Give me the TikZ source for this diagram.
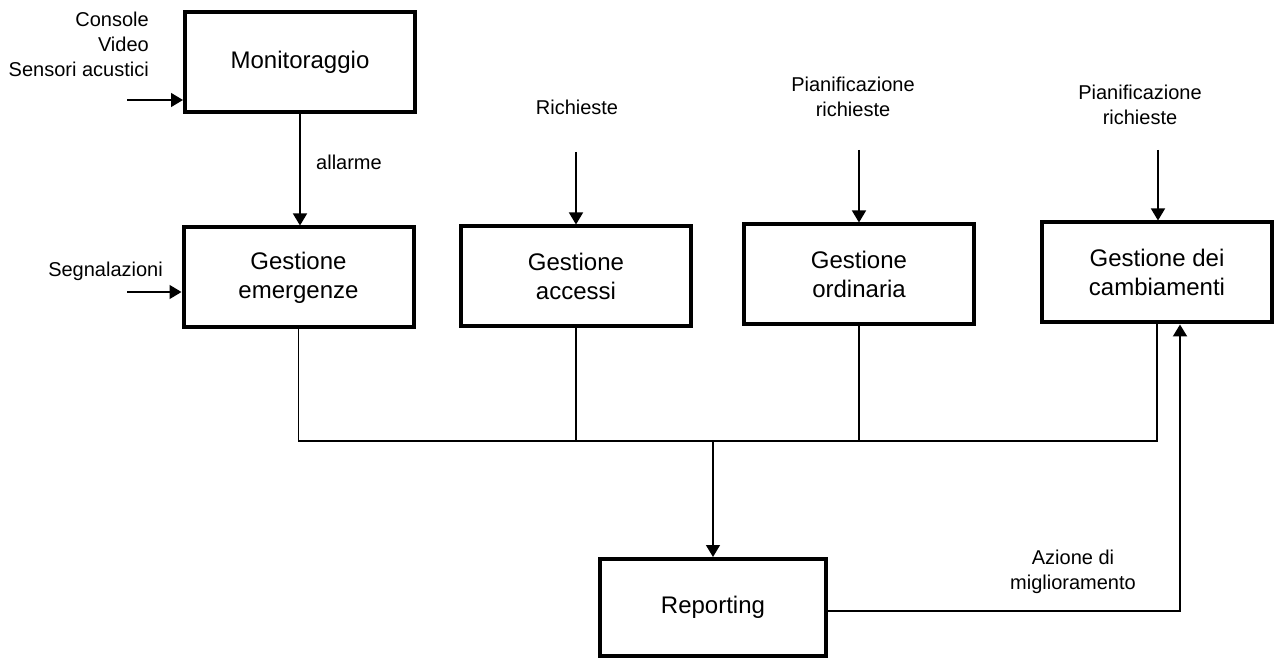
\documentclass[tikz,border=0pt]{standalone}
\usepackage{fontspec}
\setmainfont{Liberation Sans}
\usetikzlibrary{arrows.meta}
\begin{document}
\begin{tikzpicture}[x=1pt,y=-1pt,
  box/.style={draw, line width=4pt, minimum width=230pt, minimum height=100pt, inner sep=0pt, align=center, font=\fontsize{24}{29}\selectfont},
  lbl/.style={inner sep=0pt, align=center, font=\fontsize{20}{25}\selectfont},
  conn/.style={line width=1.4pt},
  arr/.style={conn, -{Triangle[length=12pt,width=14pt]}},
]
\useasboundingbox (0,0) rectangle (1275,660);

% boxes
\node[box] (mon)   at (300,62.5)   {Monitoraggio};
\node[box] (emerg) at (298.5,277.5){Gestione\\emergenze};
\node[box] (acc)   at (576,276.5)  {Gestione\\accessi};
\node[box] (ord)   at (859,274.5)  {Gestione\\ordinaria};
\node[box] (camb)  at (1157,272.5) {Gestione dei\\cambiamenti};
\node[box, minimum width=226pt, minimum height=97pt] (rep) at (713,607.5) {Reporting};

% labels
\node[lbl, align=right, anchor=north east] (srcs) at (149,12) {Console\\Video\\Sensori acustici};
\node[lbl, anchor=east] (segn) at (163,271) {Segnalazioni};
\node[lbl, anchor=west] (allarme) at (316,162) {allarme};
\node[lbl] (rich) at (577,107) {Richieste};
\node[lbl] (pian1) at (853,97) {Pianificazione\\richieste};
\node[lbl] (pian2) at (1140,105) {Pianificazione\\richieste};
\node[lbl] (azione) at (1073,572) {Azione di\\miglioramento};

% coordinates
\coordinate (in1) at (127,100);
\coordinate (in2) at (127,292);
\coordinate (rq) at (576,152);
\coordinate (po) at (859,150);
\coordinate (pc) at (1158,150);
\coordinate (busL) at (298.5,441);
\coordinate (fb) at (1180,611);

% inputs
\draw[arr] (in1) -- (in1 -| mon.west);
\draw[arr] (in2) -- (in2 -| emerg.west);
\draw[arr] (mon.south) -- (mon.south |- emerg.north);
\draw[arr] (rq) -- (acc.north);
\draw[arr] (po) -- (ord.north);
\draw[arr] (pc) -- (pc |- camb.north);

% bus
\draw[conn] (emerg.south) |- (camb.south |- busL) -- (camb.south);
\draw[conn] (acc.south) -- (acc.south |- busL);
\draw[conn] (ord.south) -- (ord.south |- busL);
\draw[arr] (rep.north |- busL) -- (rep.north);

% feedback
\draw[line width=2pt, -{Triangle[length=12pt,width=14pt]}] (rep.east |- fb) -- (fb) -- (fb |- camb.south);
\end{tikzpicture}
\end{document}
